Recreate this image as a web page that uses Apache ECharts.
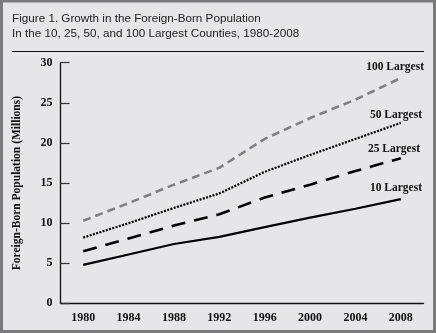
<!DOCTYPE html>
<html>
<head>
<meta charset="utf-8">
<script src="https://cdn.jsdelivr.net/npm/echarts@6/dist/echarts.min.js"></script>
<style>
html,body{margin:0;padding:0;background:#e6e6e8;}
#c{width:436px;height:333px;}
</style>
</head>
<body>
<div id="c"></div>
<script>
var yearLabels = ['1980','1984','1988','1992','1996','2000','2004','2008'];
var years = [1980, 1984, 1988, 1992, 1996, 2000, 2004, 2008];
var largest10  = [4.8, 6.1, 7.4, 8.3, 9.5, 10.7, 11.8, 13.0];
var largest25  = [6.5, 8.1, 9.7, 11.1, 13.2, 14.8, 16.5, 18.1];
var largest50  = [8.2, 10.0, 11.9, 13.7, 16.4, 18.5, 20.5, 22.5];
var largest100 = [10.3, 12.5, 14.8, 16.9, 20.5, 23.1, 25.4, 28.1];
var seriesNames = ['100 Largest', '50 Largest', '25 Largest', '10 Largest'];

function pairs(v){ return years.map(function(y,i){ return [y, v[i]]; }); }

var serif = '"Liberation Serif", "Times New Roman", serif';
var chart = echarts.init(document.getElementById('c'), null, {renderer:'canvas'});
chart.setOption({
  backgroundColor: '#e6e6e8',
  animation: false,
  grid: {left: 60.5, right: 12.5, top: 62.7, bottom: 29.6},
  xAxis: [{
    type: 'category',
    data: yearLabels,
    boundaryGap: true,
    axisLine: {lineStyle: {color: '#111', width: 1.3}},
    axisTick: {inside: true, length: 5, lineStyle: {color: '#222', width: 1.2}},
    axisLabel: {fontFamily: serif, fontWeight: 'bold', fontSize: 12, color: '#111', margin: 9},
    splitLine: {show: false}
  }, {
    type: 'value',
    min: 1978, max: 2010,
    show: false
  }],
  yAxis: {
    type: 'value',
    min: 0, max: 30, interval: 5,
    name: 'Foreign-Born Population (Millions)',
    nameLocation: 'middle',
    nameGap: 37.5,
    nameTextStyle: {fontFamily: serif, fontWeight: 'bold', fontSize: 11.5, color: '#111'},
    axisLine: {show: true, lineStyle: {color: '#111', width: 1.3}},
    axisTick: {show: true, inside: true, length: 9, lineStyle: {color: '#333', width: 1.2}},
    axisLabel: {fontFamily: serif, fontWeight: 'bold', fontSize: 12, color: '#111', margin: 8},
    splitLine: {show: false}
  },
  series: [
    {name: seriesNames[0], type: 'line', xAxisIndex: 1, data: pairs(largest100), symbol: 'none',
     lineStyle: {color: '#808080', width: 2.6, type: [8, 5], cap: 'butt'}},
    {name: seriesNames[1], type: 'line', xAxisIndex: 1, data: pairs(largest50), symbol: 'none',
     lineStyle: {color: '#000', width: 2.2, type: [2, 1.4], cap: 'butt'}},
    {name: seriesNames[2], type: 'line', xAxisIndex: 1, data: pairs(largest25), symbol: 'none',
     lineStyle: {color: '#000', width: 2.6, type: [14, 9], cap: 'butt'}},
    {name: seriesNames[3], type: 'line', xAxisIndex: 1, data: pairs(largest10), symbol: 'none',
     lineStyle: {color: '#000', width: 2.2}}
  ],
  graphic: [
    {type: 'rect', shape: {x: 1.5, y: 1, width: 433, height: 330.5}, style: {fill: 'none', stroke: '#7a7a7a', lineWidth: 3}, silent: true},
    {type: 'text', left: 12, top: 13, style: {text: 'Figure 1. Growth in the Foreign-Born Population', font: '11.7px "Liberation Sans", Arial, sans-serif', fill: '#222'}},
    {type: 'text', left: 12, top: 27.5, style: {text: 'In the 10, 25, 50, and 100 Largest Counties, 1980-2008', font: '11.7px "Liberation Sans", Arial, sans-serif', fill: '#222'}},
    {type: 'line', shape: {x1: 12, y1: 51.5, x2: 424, y2: 51.5}, style: {stroke: '#111', lineWidth: 1.2}},
    {type: 'text', x: 424, y: 67, style: {text: seriesNames[0], font: 'bold 11.5px ' + serif, fill: '#111', align: 'right', verticalAlign: 'middle'}},
    {type: 'text', x: 422, y: 115, style: {text: seriesNames[1], font: 'bold 11.5px ' + serif, fill: '#111', align: 'right', verticalAlign: 'middle'}},
    {type: 'text', x: 420, y: 149.5, style: {text: seriesNames[2], font: 'bold 11.5px ' + serif, fill: '#111', align: 'right', verticalAlign: 'middle'}},
    {type: 'text', x: 422, y: 188.5, style: {text: seriesNames[3], font: 'bold 11.5px ' + serif, fill: '#111', align: 'right', verticalAlign: 'middle'}}
  ]
});
</script>
</body>
</html>
